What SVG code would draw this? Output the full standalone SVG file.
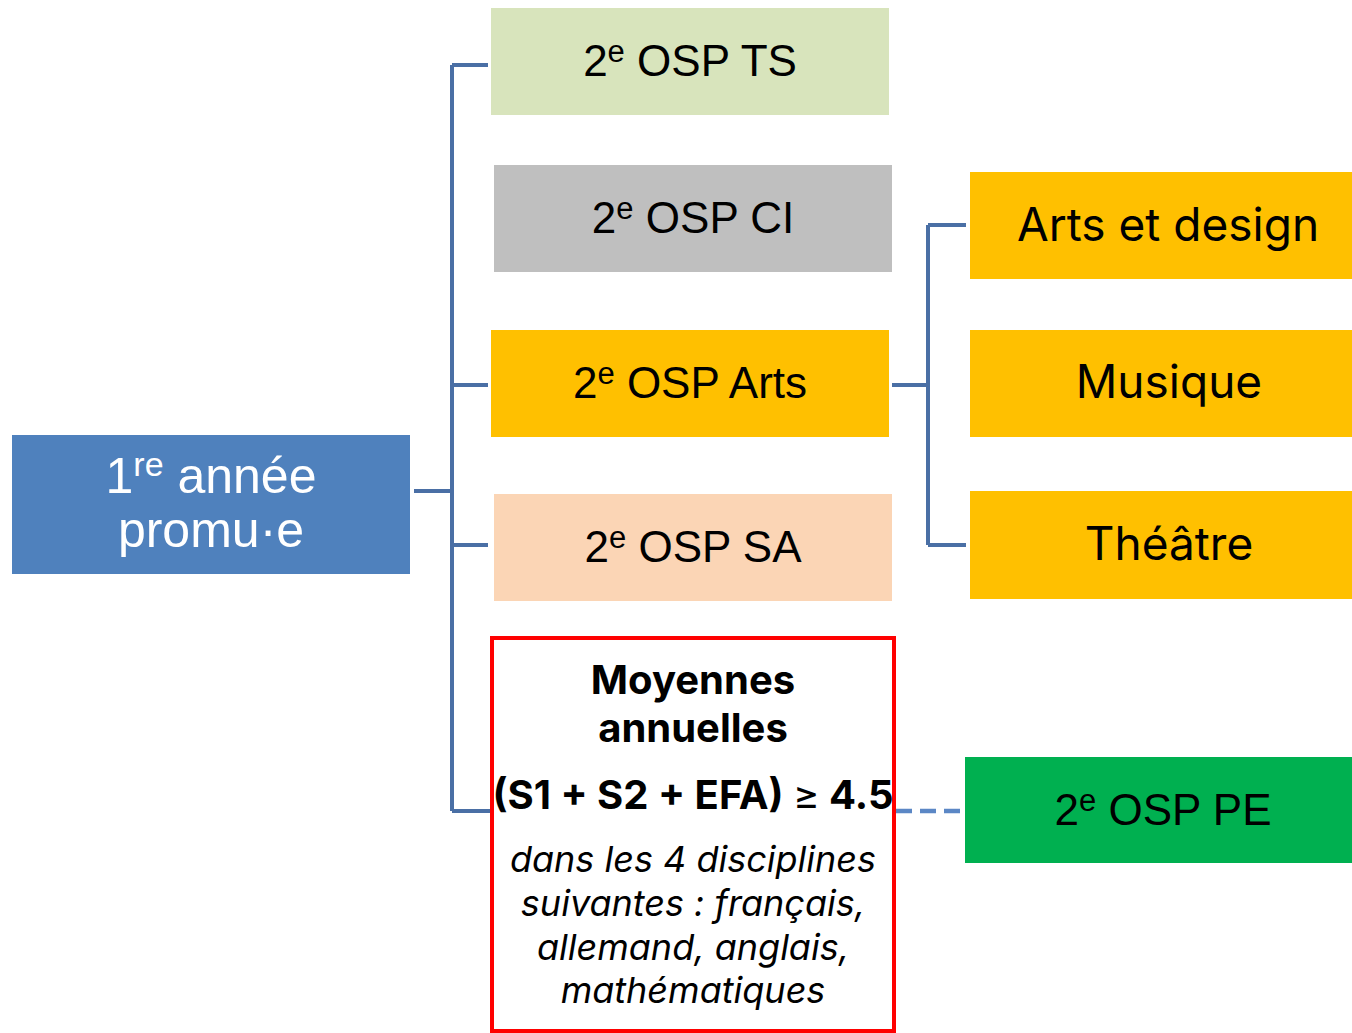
<svg xmlns="http://www.w3.org/2000/svg" width="1352" height="1033" viewBox="0 0 1352 1033">
<style>
.a{font-family:"Liberation Sans",Arial,sans-serif;font-size:44px;fill:#000;text-anchor:middle}
.l{font-size:50px}
.b{font-family:Inter,"Open Sans",sans-serif;font-size:46px;fill:#000;text-anchor:middle}
.w{fill:#fff}
.c{fill:none;stroke:#4A6FA5;stroke-width:4}
.d{fill:none;stroke:#5B87C5;stroke-width:4.5;stroke-dasharray:16 8}
.bold{font-family:Inter,"Open Sans",sans-serif;font-weight:bold;font-size:40px;text-anchor:middle}
.it{font-family:Inter,"Open Sans",sans-serif;font-style:italic;font-size:36px;text-anchor:middle}
</style>
<rect width="1352" height="1033" fill="#fff"/>
<g id="connectors">
<path class="c" d="M414 491H452M452 65V811M452 65H488M452 385H488M452 545H488M452 811H490"/>
<path class="c" d="M892 385H928M928 225V545M928 225H966M928 545H966"/>
<path class="d" d="M896 811H965"/>
</g>
<g id="n1">
<rect x="12" y="435" width="398" height="139" fill="#4F81BD"/>
<text class="a l w" x="211" y="493">1<tspan font-size="34" dy="-17">re</tspan><tspan dy="17"> année</tspan></text>
<text class="a l w" x="211" y="547">promu·e</text>
</g>
<g id="ts">
<rect x="491" y="8" width="398" height="107" fill="#D8E4BC"/>
<text class="a" x="690" y="76">2<tspan font-size="31" dy="-14">e</tspan><tspan dy="14"> OSP TS</tspan></text>
</g>
<g id="ci">
<rect x="494" y="165" width="398" height="107" fill="#BFBFBF"/>
<text class="a" x="693" y="233">2<tspan font-size="31" dy="-14">e</tspan><tspan dy="14"> OSP CI</tspan></text>
</g>
<g id="arts">
<rect x="491" y="330" width="398" height="107" fill="#FFC000"/>
<text class="a" x="690" y="398">2<tspan font-size="31" dy="-14">e</tspan><tspan dy="14"> OSP Arts</tspan></text>
</g>
<g id="sa">
<rect x="494" y="494" width="398" height="107" fill="#FBD5B5"/>
<text class="a" x="693" y="562">2<tspan font-size="31" dy="-14">e</tspan><tspan dy="14"> OSP SA</tspan></text>
</g>
<g id="moy">
<rect x="492" y="638" width="402" height="393" fill="#fff" stroke="#FF0000" stroke-width="4"/>
<text class="bold" x="693" y="694">Moyennes</text>
<text class="bold" x="693" y="742">annuelles</text>
<text class="bold" x="693" y="809">(S1 + S2 + EFA) <tspan font-weight="normal">≥</tspan> 4.5</text>
<text class="it" x="693" y="872">dans les 4 disciplines</text>
<text class="it" x="693" y="916">suivantes : français,</text>
<text class="it" x="693" y="960">allemand, anglais,</text>
<text class="it" x="693" y="1003">mathématiques</text>
</g>
<g id="design">
<rect x="970" y="172" width="382" height="107" fill="#FFC000"/>
<text class="b" x="1168" y="241">Arts et design</text>
</g>
<g id="musique">
<rect x="970" y="330" width="382" height="107" fill="#FFC000"/>
<text class="b" x="1169" y="398">Musique</text>
</g>
<g id="theatre">
<rect x="970" y="491" width="382" height="108" fill="#FFC000"/>
<text class="b" x="1169" y="560">Théâtre</text>
</g>
<g id="pe">
<rect x="965" y="757" width="387" height="106" fill="#00B050"/>
<text class="a" x="1163" y="825">2<tspan font-size="31" dy="-14">e</tspan><tspan dy="14"> OSP PE</tspan></text>
</g>
</svg>
